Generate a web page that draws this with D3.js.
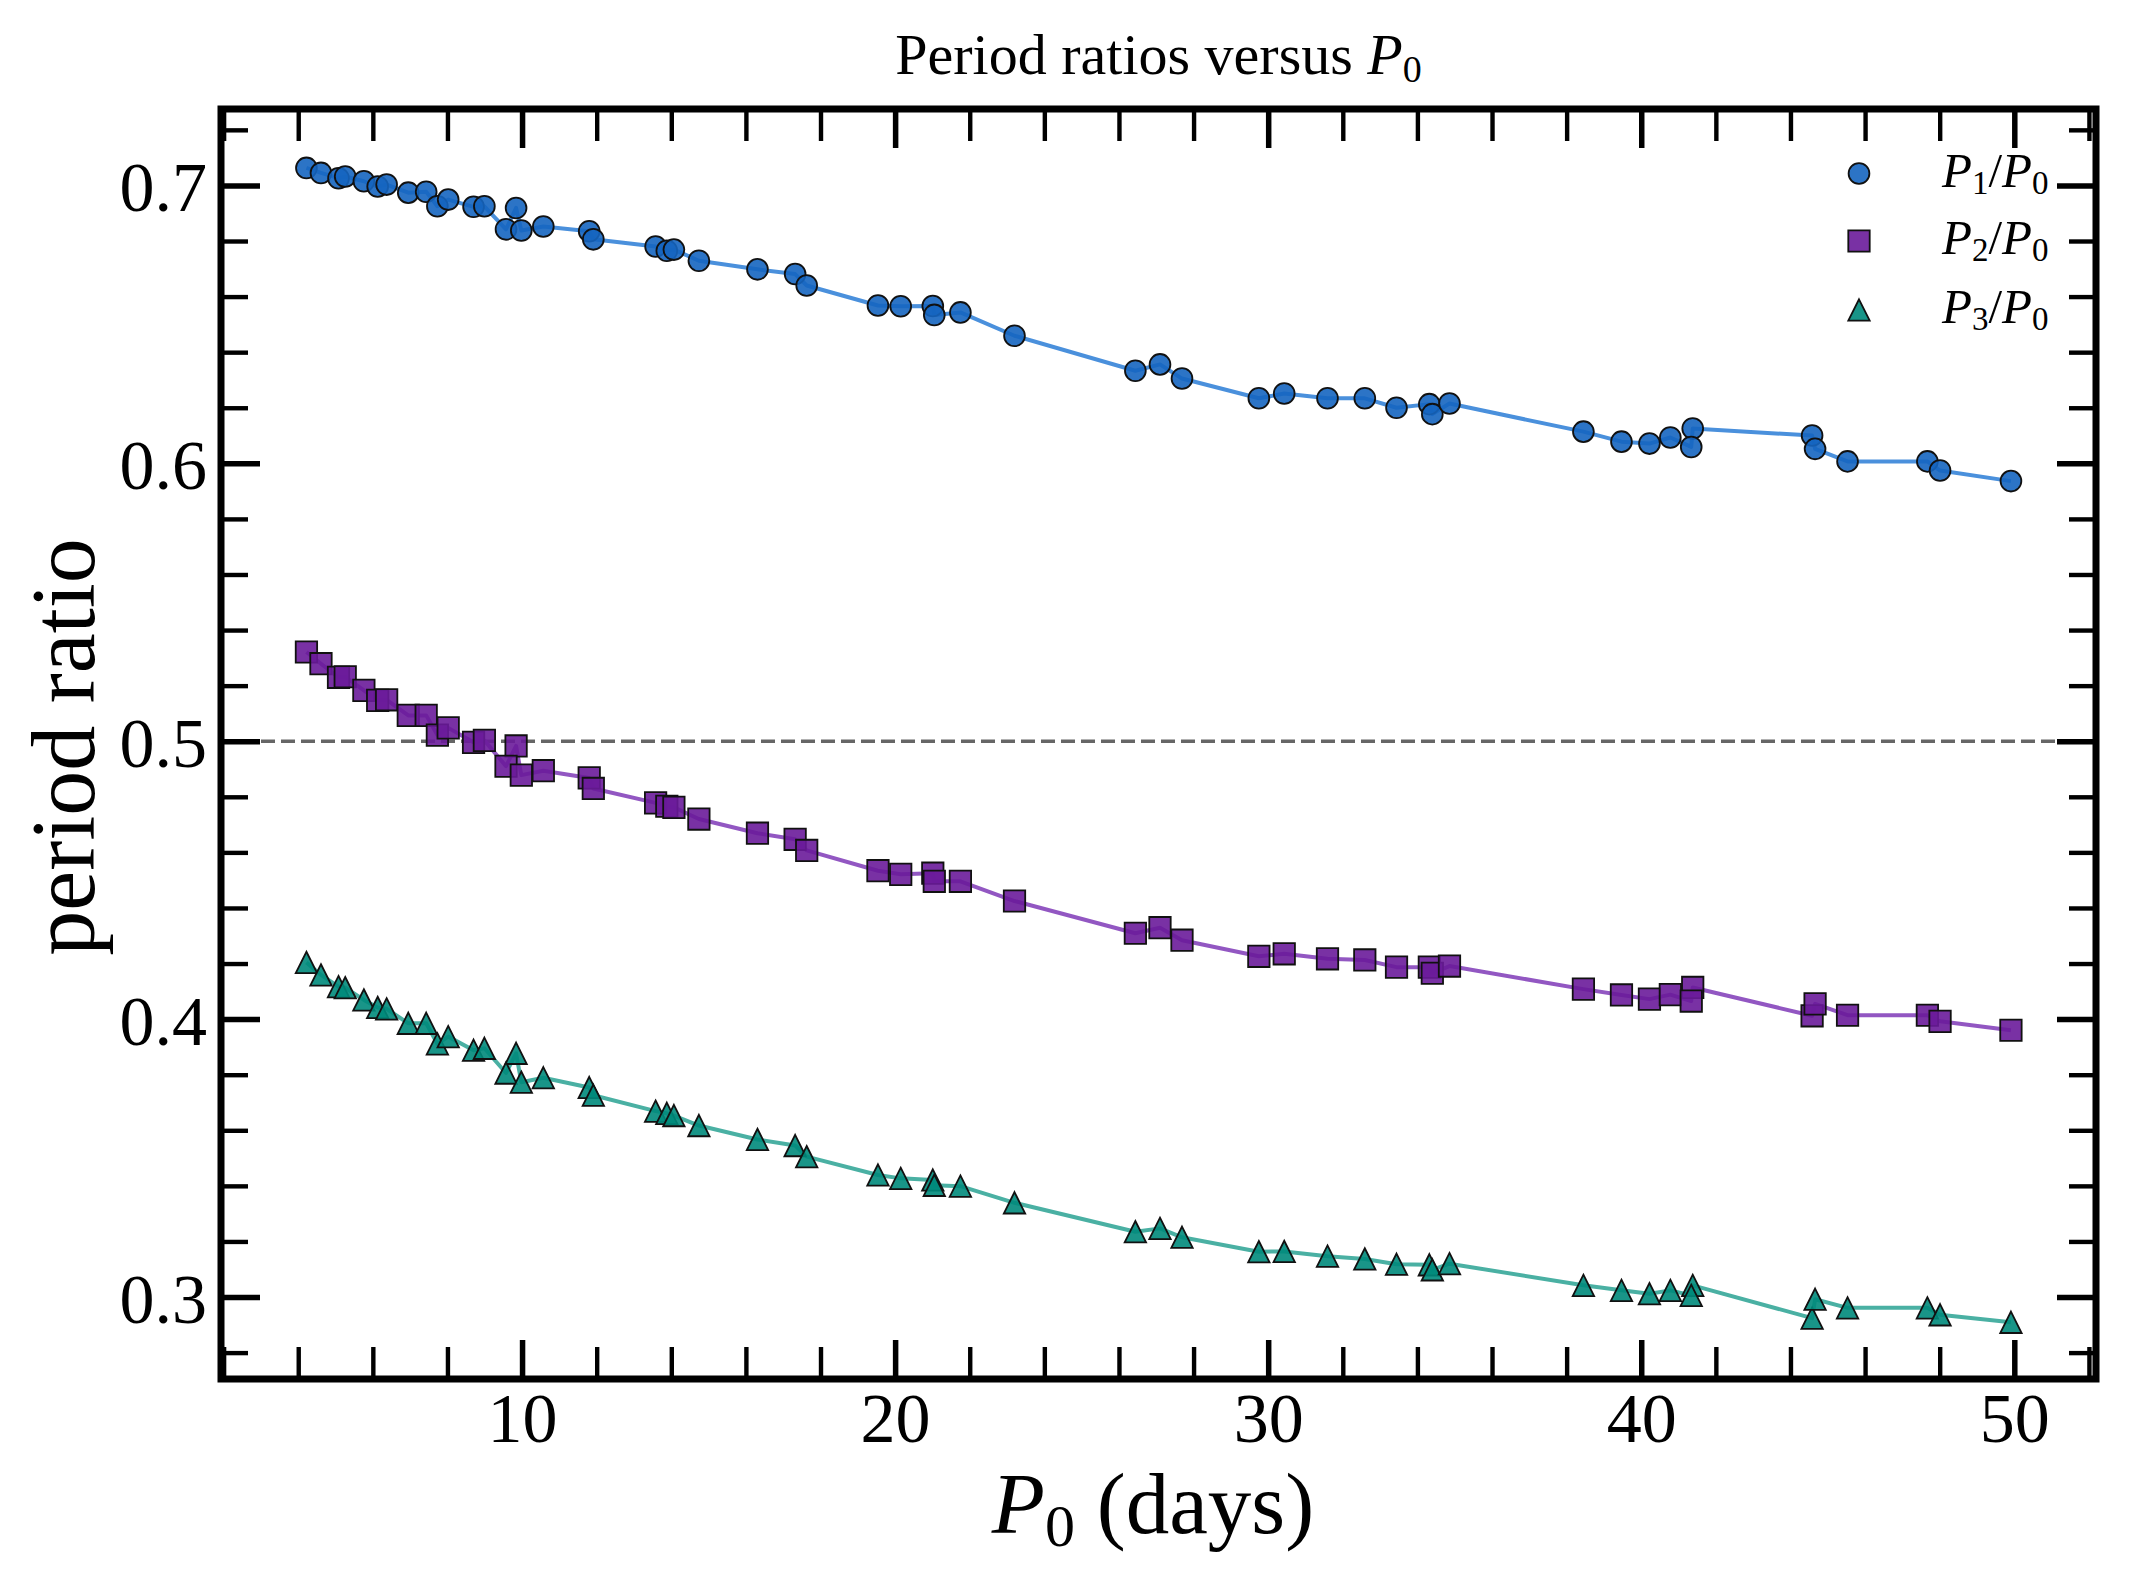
<!DOCTYPE html>
<html><head><meta charset="utf-8">
<script src="https://cdn.jsdelivr.net/npm/d3@7"></script>
<style>
body{margin:0;background:#fff}
svg{display:block}
text{font-family:"Liberation Serif","DejaVu Serif",serif;fill:#000}
</style>
</head><body>
<svg id="chart" width="2129" height="1588"></svg>
<script>
// ---- data ----
const P0 = [4.22, 4.61, 5.08, 5.26, 5.76, 6.13, 6.37, 6.95, 7.43, 7.73, 8.02, 8.70, 8.99, 9.84, 9.57, 9.98, 10.57, 11.80, 11.91, 13.58, 13.88, 14.07, 14.74, 16.31, 17.32, 17.63, 19.54, 20.15, 21.01, 21.05, 21.75, 23.20, 26.44, 27.10, 27.69, 29.75, 30.43, 31.59, 32.59, 33.44, 34.32, 34.40, 34.86, 38.45, 39.47, 40.22, 40.78, 41.38, 41.34, 44.58, 44.66, 45.53, 47.67, 48.01, 49.91];
const P1_P0 = [0.7063, 0.7045, 0.7026, 0.7032, 0.7015, 0.6996, 0.7003, 0.6974, 0.6977, 0.6925, 0.6949, 0.6923, 0.6925, 0.6919, 0.6842, 0.6838, 0.6852, 0.6835, 0.6806, 0.6780, 0.6765, 0.6769, 0.6729, 0.6698, 0.6681, 0.6640, 0.6568, 0.6565, 0.6566, 0.6534, 0.6543, 0.6459, 0.6333, 0.6356, 0.6305, 0.6234, 0.6251, 0.6234, 0.6234, 0.6200, 0.6213, 0.6177, 0.6215, 0.6114, 0.6078, 0.6071, 0.6093, 0.6125, 0.6059, 0.6100, 0.6052, 0.6007, 0.6007, 0.5974, 0.5936];
const P2_P0 = [0.5321, 0.5279, 0.5230, 0.5232, 0.5183, 0.5147, 0.5149, 0.5093, 0.5093, 0.5022, 0.5048, 0.4996, 0.5003, 0.4983, 0.4910, 0.4878, 0.4894, 0.4868, 0.4830, 0.4778, 0.4766, 0.4762, 0.4720, 0.4669, 0.4647, 0.4607, 0.4534, 0.4521, 0.4525, 0.4496, 0.4496, 0.4425, 0.4309, 0.4329, 0.4284, 0.4226, 0.4235, 0.4217, 0.4213, 0.4187, 0.4187, 0.4165, 0.4191, 0.4108, 0.4087, 0.4072, 0.4088, 0.4114, 0.4065, 0.4012, 0.4055, 0.4014, 0.4014, 0.3992, 0.3960];
const P3_P0 = [0.4204, 0.4159, 0.4117, 0.4113, 0.4069, 0.4042, 0.4037, 0.3985, 0.3985, 0.3911, 0.3937, 0.3888, 0.3895, 0.3877, 0.3806, 0.3773, 0.3789, 0.3754, 0.3726, 0.3669, 0.3661, 0.3653, 0.3617, 0.3567, 0.3545, 0.3505, 0.3439, 0.3427, 0.3421, 0.3402, 0.3399, 0.3339, 0.3235, 0.3247, 0.3215, 0.3163, 0.3164, 0.3147, 0.3137, 0.3118, 0.3116, 0.3098, 0.3120, 0.3042, 0.3024, 0.3012, 0.3024, 0.3042, 0.3006, 0.2924, 0.2992, 0.2961, 0.2961, 0.2936, 0.2909];
const seriesNames = ["1", "2", "3"];   // subscripts of P_i/P_0
const xTicks = [10, 20, 30, 40, 50];
const yTicks = [0.3, 0.4, 0.5, 0.6, 0.7];
const xLimits = [1.93, 52.19];
const yLimits = [0.2705, 0.7275];
const refValue = 0.5;

// ---- layout ----
const L = 221, R = 2096, T = 109, B = 1379;
const svg = d3.select("#chart");

const x = d3.scaleLinear().domain(xLimits).range([L, R]);
const y = d3.scaleLinear().domain(yLimits).range([B, T]);

const triUp = { draw(ctx, size) { const h = Math.sqrt(size) / 2; ctx.moveTo(0, -h); ctx.lineTo(h, h); ctx.lineTo(-h, h); ctx.closePath(); } };
const series = [
  { vals: P1_P0, sym: d3.symbolCircle, size: Math.PI * 10.4 * 10.4, fill: "#1565c0", line: "#4a90dc" },
  { vals: P2_P0, sym: d3.symbolSquare, size: 21.4 * 21.4, fill: "#6a1b9a", line: "#9257c2" },
  { vals: P3_P0, sym: triUp, size: 21.4 * 21.4, fill: "#00897b", line: "#4ab0a3" }
];

// reference dashed line
svg.append("line")
  .attr("x1", x(xLimits[0])).attr("x2", x(xLimits[1]))
  .attr("y1", y(refValue)).attr("y2", y(refValue))
  .attr("stroke", "#666").attr("stroke-width", 3.6).attr("stroke-dasharray", "14,6");

const order = d3.range(P0.length).sort((a, b) => P0[a] - P0[b]);

series.forEach(s => {
  const line = d3.line().x(i => x(P0[i])).y(i => y(s.vals[i]));
  svg.append("path").attr("d", line(order))
    .attr("fill", "none").attr("stroke", s.line).attr("stroke-width", 4)
    .attr("stroke-linejoin", "round");
  const sym = d3.symbol().type(s.sym).size(s.size);
  svg.append("g").selectAll("path").data(P0.map((p, i) => i)).join("path")
    .attr("d", sym)
    .attr("transform", i => `translate(${x(P0[i])},${y(s.vals[i])})`)
    .attr("fill", s.fill).attr("fill-opacity", 0.9)
    .attr("stroke", "#111").attr("stroke-width", 1.8);
});

// ---- axes (inward ticks on all four sides) ----
const xMinor = d3.range(2, 53, 2).filter(v => v % 10 !== 0);
const yMinor = d3.range(28, 73, 2).map(v => v / 100).filter(v => Math.round(v * 100) % 10 !== 0);
const majLen = 39, minLen = 32, minLenY = 27;

function styleAxis(g, w) {
  g.select(".domain").remove();
  g.selectAll(".tick line").attr("stroke", "#000").attr("stroke-width", w);
}

svg.append("g").attr("transform", `translate(0,${B})`)
  .call(d3.axisBottom(x).tickValues(xMinor).tickSize(-minLen).tickFormat(""))
  .call(g => styleAxis(g, 4.4));
svg.append("g").attr("transform", `translate(0,${T})`)
  .call(d3.axisTop(x).tickValues(xMinor).tickSize(-minLen).tickFormat(""))
  .call(g => styleAxis(g, 4.4));
svg.append("g").attr("transform", `translate(${L},0)`)
  .call(d3.axisLeft(y).tickValues(yMinor).tickSize(-minLenY).tickFormat(""))
  .call(g => styleAxis(g, 4.4));
svg.append("g").attr("transform", `translate(${R},0)`)
  .call(d3.axisRight(y).tickValues(yMinor).tickSize(-minLenY).tickFormat(""))
  .call(g => styleAxis(g, 4.4));

const xb = svg.append("g").attr("transform", `translate(0,${B})`)
  .call(d3.axisBottom(x).tickValues(xTicks).tickSize(-majLen).tickPadding(13).tickFormat(d3.format("d")))
  .call(g => styleAxis(g, 5.5));
xb.selectAll("text").attr("font-size", 70).attr("font-family", '"Liberation Serif",serif').attr("fill", "#000");

svg.append("g").attr("transform", `translate(0,${T})`)
  .call(d3.axisTop(x).tickValues(xTicks).tickSize(-majLen).tickFormat(""))
  .call(g => styleAxis(g, 5.5));

const yl = svg.append("g").attr("transform", `translate(${L},0)`)
  .call(d3.axisLeft(y).tickValues(yTicks).tickSize(-majLen).tickPadding(14).tickFormat(d3.format(".1f")))
  .call(g => styleAxis(g, 5.5));
yl.selectAll("text").attr("font-size", 70).attr("dy", "0.36em").attr("font-family", '"Liberation Serif",serif').attr("fill", "#000");

svg.append("g").attr("transform", `translate(${R},0)`)
  .call(d3.axisRight(y).tickValues(yTicks).tickSize(-majLen).tickFormat(""))
  .call(g => styleAxis(g, 5.5));

// frame
svg.append("rect").attr("x", L).attr("y", T).attr("width", R - L).attr("height", B - T)
  .attr("fill", "none").attr("stroke", "#000").attr("stroke-width", 7);

// ---- texts ----
const title = svg.append("text").attr("x", (L + R) / 2).attr("y", 74)
  .attr("text-anchor", "middle").attr("font-size", 58);
title.append("tspan").text("Period ratios versus ");
title.append("tspan").attr("font-style", "italic").text("P");
title.append("tspan").attr("font-size", 38).attr("dy", 8).text("0");

const xlab = svg.append("text").attr("x", 1153).attr("y", 1533)
  .attr("text-anchor", "middle").attr("font-size", 87);
xlab.append("tspan").attr("font-style", "italic").text("P");
xlab.append("tspan").attr("font-size", 60).attr("dy", 13).text("0");
xlab.append("tspan").attr("dy", -13).text(" (days)");

svg.append("text").attr("transform", "translate(94,747) rotate(-90)")
  .attr("text-anchor", "middle").attr("font-size", 90).text("period ratio");

// ---- legend ----
const legY = [173.5, 241, 310];
series.forEach((s, k) => {
  const g = svg.append("g").attr("transform", `translate(1859,${legY[k]})`);
  g.append("path").attr("d", d3.symbol().type(s.sym).size(s.size))
    .attr("fill", s.fill).attr("fill-opacity", 0.9).attr("stroke", "#111").attr("stroke-width", 1.8);
  const t = g.append("text").attr("x", 83).attr("y", 13).attr("font-size", 49);
  t.append("tspan").attr("font-style", "italic").text("P");
  t.append("tspan").attr("font-size", 33).attr("dy", 7).text(seriesNames[k]);
  t.append("tspan").attr("dy", -7).text("/");
  t.append("tspan").attr("font-style", "italic").text("P");
  t.append("tspan").attr("font-size", 33).attr("dy", 7).text("0");
});
</script>
</body></html>
